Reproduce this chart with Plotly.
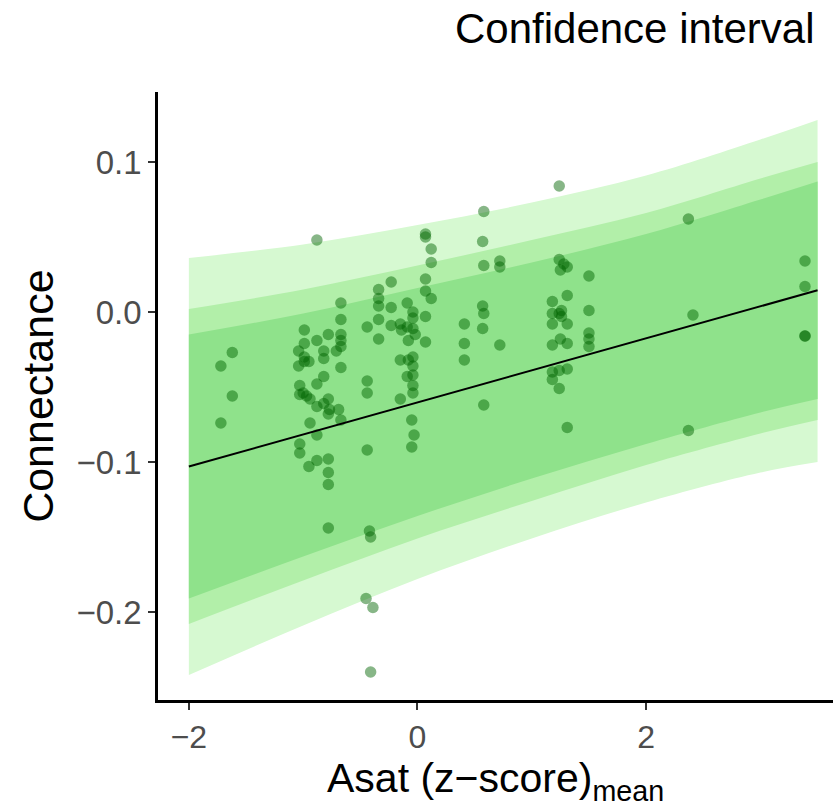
import plotly.graph_objects as go

# ---- data ----
band_x = [-2.0, -1.0, 0.0, 1.0, 2.0, 3.0, 3.5]
outer_hi = [0.036, 0.045, 0.058, 0.073, 0.091, 0.115, 0.128]
outer_lo = [-0.242, -0.209, -0.178, -0.151, -0.127, -0.107, -0.100]
mid_hi = [0.002, 0.015, 0.031, 0.048, 0.066, 0.089, 0.100]
mid_lo = [-0.208, -0.179, -0.151, -0.126, -0.102, -0.081, -0.072]
in_hi = [-0.015, -0.001, 0.016, 0.033, 0.052, 0.075, 0.087]
in_lo = [-0.191, -0.163, -0.136, -0.111, -0.088, -0.067, -0.058]

fit_x = [-2.0, 3.5]
fit_y = [-0.103, 0.0145]

pts_x = [-1.72, -1.62, -1.62, -1.72, -0.88, 0.07, 0.07, 0.12, 0.12, 0.07,
         0.07, 0.12, -0.23, -0.34, -0.34, -0.34, -0.23, -0.09, -0.04, 0.07,
         -0.34, -0.23, -0.44, -0.15, -0.09, -0.14, -0.04, -0.02, -0.08, -0.04,
         -0.34, 0.07, -0.67, -0.67, -0.67, -0.67, -0.67, -0.78, -0.88, -0.99,
         -0.99, -1.04, -0.99, -0.99, -0.95, -1.04, -0.82, -0.82, -0.71, -0.67,
         -0.82, -0.88, -1.03, -1.03, -1.00, -0.97, -0.94, -0.88, -0.82, -0.78,
         -0.77, -0.78, -0.69, -0.67, -0.94, -0.44, -0.44, -0.15, -0.04, -0.04,
         -0.04, -0.04, -0.04, -0.08, -0.09, -0.15, -0.05, -0.88, -1.03, -1.03,
         -0.95, -0.88, -0.78, -0.78, -0.78, -0.78, -0.44, -0.03, -0.05, -0.42,
         -0.41, -0.45, -0.39, -0.41, 1.24, 0.58, 0.57, 0.58, 0.72, 0.72,
         1.24, 1.25, 1.31, 1.28, 1.50, 1.31, 0.57, 0.58, 0.41, 0.57,
         0.41, 0.41, 0.72, 1.18, 1.18, 1.18, 1.24, 1.26, 1.26, 1.31,
         1.50, 1.50, 1.50, 1.50, 1.18, 1.31, 1.25, 1.18, 1.24, 1.31,
         1.18, 1.24, 0.58, 1.31, 2.37, 2.41, 2.37, 3.39, 3.39, 3.39,
         3.39]
pts_y = [-0.036, -0.027, -0.056, -0.074, 0.048, 0.052, 0.050, 0.042, 0.033, 0.022,
         0.014, 0.009, 0.020, 0.015, 0.009, 0.004, 0.003, 0.006, 0.000, -0.003,
         -0.005, -0.009, -0.010, -0.008, -0.010, -0.012, -0.011, -0.015, -0.019, -0.004,
         -0.018, -0.020, 0.006, -0.005, -0.015, -0.019, -0.023, -0.015, -0.019, -0.012,
         -0.021, -0.026, -0.030, -0.033, -0.033, -0.036, -0.026, -0.031, -0.026, -0.037,
         -0.043, -0.048, -0.049, -0.055, -0.054, -0.056, -0.058, -0.063, -0.061, -0.058,
         -0.065, -0.068, -0.065, -0.072, -0.074, -0.046, -0.054, -0.032, -0.030, -0.036,
         -0.042, -0.049, -0.054, -0.032, -0.043, -0.058, -0.072, -0.082, -0.088, -0.094,
         -0.103, -0.099, -0.098, -0.107, -0.115, -0.144, -0.092, -0.082, -0.090, -0.146,
         -0.150, -0.191, -0.197, -0.240, 0.084, 0.067, 0.047, 0.031, 0.034, 0.030,
         0.035, 0.028, 0.030, 0.032, 0.024, 0.011, 0.004, -0.001, -0.008, -0.011,
         -0.021, -0.032, -0.022, 0.007, -0.001, -0.008, -0.001, -0.003, 0.001, -0.008,
         0.001, -0.014, -0.018, -0.023, -0.022, -0.021, -0.018, -0.040, -0.039, -0.038,
         -0.045, -0.051, -0.062, -0.077, 0.062, -0.002, -0.079, 0.034, 0.017, -0.016,
         -0.016]

x_ticks = [-2, 0, 2]
x_tick_labels = ["\u22122", "0", "2"]
y_ticks = [-0.2, -0.1, 0.0, 0.1]
y_tick_labels = ["\u22120.2", "\u22120.1", "0.0", "0.1"]

band_colors = ["#d6f9d1", "#b2efa9", "#8fe28b"]

fig = go.Figure()
for hi, lo, col in [(outer_hi, outer_lo, band_colors[0]),
                    (mid_hi, mid_lo, band_colors[1]),
                    (in_hi, in_lo, band_colors[2])]:
    fig.add_trace(go.Scatter(x=band_x, y=hi, mode="lines",
                             line=dict(width=0, color=col, shape="spline"),
                             hoverinfo="skip", showlegend=False))
    fig.add_trace(go.Scatter(x=band_x, y=lo, mode="lines", fill="tonexty",
                             fillcolor=col,
                             line=dict(width=0, color=col, shape="spline"),
                             hoverinfo="skip", showlegend=False))

fig.add_trace(go.Scatter(x=pts_x, y=pts_y, mode="markers",
                         marker=dict(size=11.5, color="rgba(0,100,0,0.47)",
                                     line=dict(width=0)),
                         showlegend=False))

fig.add_trace(go.Scatter(x=fit_x, y=fit_y, mode="lines",
                         line=dict(color="black", width=2),
                         showlegend=False))

font_family = "Liberation Sans, Arial, sans-serif"

fig.update_layout(
    width=833, height=809,
    margin=dict(l=158, r=0, t=92, b=109),
    paper_bgcolor="white", plot_bgcolor="white",
    font=dict(family=font_family, color="black"),
    xaxis=dict(range=[-2.270, 3.635], tickvals=x_ticks, ticktext=x_tick_labels,
               showgrid=False, zeroline=False, showline=True,
               linecolor="black", linewidth=2.5,
               ticks="outside", ticklen=7, tickwidth=2.2, tickcolor="#333333",
               tickfont=dict(size=32, color="#4d4d4d", family=font_family)),
    yaxis=dict(range=[-0.2587, 0.1467], tickvals=y_ticks, ticktext=y_tick_labels,
               showgrid=False, zeroline=False, showline=True,
               linecolor="black", linewidth=2.5,
               ticks="outside", ticklen=7, tickwidth=2.2, tickcolor="#333333",
               tickfont=dict(size=33, color="#4d4d4d", family=font_family)),
    annotations=[
        dict(text="Confidence interval", xref="paper", yref="paper",
             x=0.7067, y=1.104, xanchor="center", yanchor="middle",
             showarrow=False, font=dict(size=42, color="black", family=font_family)),
        dict(text="Connectance", xref="paper", yref="paper",
             x=-0.178, y=0.5, xanchor="center", yanchor="middle", textangle=-90,
             showarrow=False, font=dict(size=43, color="black", family=font_family)),
        dict(text="Asat (z\u2212score)<sub>mean</sub>", xref="paper", yref="paper",
             x=0.5, y=-0.133, xanchor="center", yanchor="middle",
             showarrow=False, font=dict(size=41, color="black", family=font_family)),
    ],
)

fig.write_html("out.html")
